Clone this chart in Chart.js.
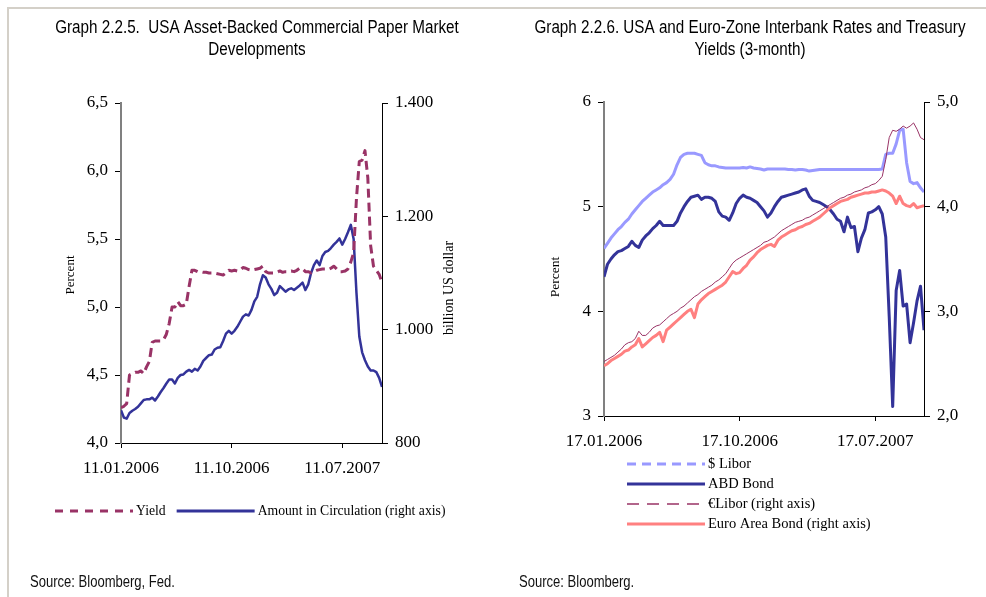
<!DOCTYPE html>
<html>
<head>
<meta charset="utf-8">
<script src="https://cdn.jsdelivr.net/npm/chart.js@4.4.1/dist/chart.umd.min.js"></script>
<style>
  html, body { margin: 0; padding: 0; background: #fff; }
  body { width: 986px; height: 597px; position: relative; overflow: hidden; }
  .frame { position: absolute; left: 7px; top: 7px; right: 0; bottom: 0;
           border-top: 2px solid #d4d0c8; border-left: 2px solid #d4d0c8; }
  #abcpChart { position: absolute; left: 20px; top: 0; }
  #ratesChart { position: absolute; left: 514px; top: 0; }
</style>
</head>
<body>
<div class="frame"></div>
<canvas id="abcpChart" width="474" height="597"></canvas>
<canvas id="ratesChart" width="472" height="597"></canvas>
<script>
// weekly observations, week 0 = first tick date
const tickWeeks = [0, 39, 78];
const abcpTicks = ['11.01.2006', '11.10.2006', '11.07.2007'];
const ratesTicks = ['17.01.2006', '17.10.2006', '17.07.2007'];

// Graph 2.2.5 - percent
const abcpYield = [
  4.26, 4.27, 4.29, 4.50, 4.51, 4.52, 4.52, 4.53, 4.51, 4.56,
  4.60, 4.74, 4.75, 4.75, 4.75, 4.76, 4.80, 4.88, 5.00, 5.00,
  5.04, 5.01, 5.01, 5.02, 5.15, 5.27, 5.27, 5.26, 5.26, 5.255,
  5.255, 5.25, 5.25, 5.25, 5.245, 5.24, 5.235, 5.25, 5.27, 5.265,
  5.27, 5.265, 5.27, 5.29, 5.285, 5.275, 5.27, 5.275, 5.28, 5.285,
  5.30, 5.26, 5.25, 5.25, 5.25, 5.255, 5.265, 5.255, 5.26, 5.26,
  5.265, 5.26, 5.27, 5.285, 5.28, 5.26, 5.26, 5.25, 5.26, 5.27,
  5.275, 5.28, 5.28, 5.275, 5.285, 5.30, 5.28, 5.26, 5.26, 5.265,
  5.28, 5.33, 5.40, 5.80, 6.07, 6.08, 6.15, 5.95, 5.45, 5.30,
  5.27, 5.24, 5.18
];
// Graph 2.2.5 - billion US dollar
const abcpAmount = [
  858, 845, 843, 853, 857, 860, 864, 870, 876, 877,
  877, 880, 875, 882, 890, 897, 905, 912, 912, 905,
  915, 920, 921, 926, 929, 926, 931, 928, 935, 945,
  950, 955, 956, 965, 968, 969, 980, 993, 998, 993,
  998, 1005, 1014, 1023, 1027, 1025, 1035, 1050, 1058, 1080,
  1096, 1092, 1080, 1072, 1061, 1065, 1077, 1072, 1067, 1071,
  1073, 1070, 1074, 1078, 1083, 1070, 1080, 1100, 1114, 1122,
  1114, 1130, 1137, 1139, 1144, 1150, 1155, 1161, 1150, 1160,
  1172, 1185, 1160, 1065, 988, 960, 946, 935, 928, 928,
  925, 915, 899
];

// Graph 2.2.6 - left axis (percent)
const usdLibor = [
  4.60, 4.65, 4.70, 4.74, 4.78, 4.81, 4.85, 4.88, 4.93, 4.97,
  5.01, 5.05, 5.08, 5.11, 5.14, 5.16, 5.18, 5.21, 5.23, 5.26,
  5.31, 5.40, 5.47, 5.50, 5.51, 5.51, 5.51, 5.50, 5.49, 5.42,
  5.40, 5.39, 5.39, 5.38, 5.375, 5.37, 5.37, 5.37, 5.37, 5.37,
  5.375, 5.37, 5.38, 5.37, 5.365, 5.36, 5.35, 5.36, 5.36, 5.36,
  5.36, 5.36, 5.36, 5.355, 5.355, 5.35, 5.355, 5.355, 5.35, 5.34,
  5.345, 5.35, 5.355, 5.355, 5.355, 5.355, 5.355, 5.355, 5.355, 5.355,
  5.355, 5.355, 5.355, 5.355, 5.355, 5.355, 5.355, 5.355, 5.355, 5.355,
  5.36, 5.50, 5.51, 5.51, 5.60, 5.73, 5.74, 5.42, 5.24, 5.22,
  5.23, 5.18, 5.14
];
const abdBond = [
  4.33, 4.45, 4.50, 4.54, 4.57, 4.58, 4.60, 4.62, 4.67, 4.63,
  4.61, 4.68, 4.72, 4.75, 4.79, 4.82, 4.86, 4.82, 4.82, 4.82,
  4.82, 4.86, 4.94, 5.00, 5.05, 5.09, 5.10, 5.11, 5.07, 5.09,
  5.09, 5.08, 5.05, 4.95, 4.91, 4.90, 4.87, 4.94, 5.03, 5.08,
  5.11, 5.09, 5.08, 5.06, 5.04, 5.00, 4.96, 4.90, 4.94, 5.00,
  5.05, 5.09, 5.10, 5.11, 5.12, 5.13, 5.14, 5.16, 5.17, 5.10,
  5.06, 5.05, 5.04, 5.02, 5.00, 4.97, 4.93, 4.88, 4.86, 4.76,
  4.90, 4.80, 4.81, 4.57, 4.70, 4.78, 4.94, 4.95, 4.97, 5.00,
  4.93, 4.71, 3.95, 3.09, 4.20, 4.39, 4.05, 4.07, 3.70, 3.89,
  4.10, 4.24, 3.82
];
// Graph 2.2.6 - right axis (percent)
const eurLibor = [
  2.52, 2.54, 2.56, 2.58, 2.61, 2.64, 2.68, 2.70, 2.71, 2.74,
  2.81, 2.77, 2.77, 2.80, 2.84, 2.86, 2.87, 2.90, 2.93, 2.96,
  2.98, 3.00, 3.03, 3.05, 3.08, 3.11, 3.14, 3.16, 3.19, 3.21,
  3.23, 3.25, 3.28, 3.30, 3.33, 3.36, 3.41, 3.46, 3.49, 3.51,
  3.53, 3.55, 3.57, 3.59, 3.61, 3.63, 3.66, 3.67, 3.69, 3.71,
  3.74, 3.77, 3.79, 3.81, 3.83, 3.85, 3.86, 3.87, 3.89, 3.90,
  3.92, 3.94, 3.96, 3.98, 4.00, 4.02, 4.04, 4.06, 4.08, 4.09,
  4.11, 4.12, 4.14, 4.15, 4.16, 4.18, 4.19, 4.21, 4.22, 4.25,
  4.29, 4.45, 4.66, 4.73, 4.72, 4.74, 4.77, 4.75, 4.77, 4.80,
  4.74, 4.66, 4.64
];
const euroBond = [
  2.48, 2.50, 2.53, 2.55, 2.57, 2.59, 2.62, 2.63, 2.66, 2.68,
  2.74, 2.66, 2.69, 2.72, 2.75, 2.77, 2.80, 2.71, 2.82, 2.85,
  2.88, 2.91, 2.94, 2.97, 3.00, 3.02, 2.94, 3.07, 3.11, 3.14,
  3.17, 3.19, 3.21, 3.23, 3.25, 3.28, 3.33, 3.38, 3.36, 3.37,
  3.41, 3.44, 3.49, 3.52, 3.56, 3.59, 3.61, 3.63, 3.64, 3.62,
  3.68, 3.71, 3.73, 3.75, 3.77, 3.78, 3.80, 3.81, 3.83, 3.84,
  3.86, 3.88, 3.90, 3.93, 3.96, 3.99, 4.01, 4.03, 4.05, 4.06,
  4.07, 4.09, 4.10, 4.11, 4.12, 4.13, 4.13, 4.14, 4.14, 4.15,
  4.16, 4.15, 4.13, 4.10, 4.03, 4.10, 4.03, 4.01, 4.00, 4.03,
  3.99, 4.00, 4.01
];

const SERIF = '"Liberation Serif", "Times New Roman", serif';
const SANS = '"Liberation Sans", Arial, sans-serif';

const toPoints = arr => arr.map((v, i) => ({ x: i, y: v }));
const decimalComma = v => v.toFixed(1).replace('.', ',');
const thousandsDot = v => v >= 1000 ? Math.floor(v / 1000) + '.' + String(v % 1000).padStart(3, '0') : String(v);

// narrow sans text (Arial Narrow look) made by squeezing Liberation Sans
function narrowText(ctx, text, x, y, size, squeeze, align) {
  ctx.save();
  ctx.font = size + 'px ' + SANS;
  ctx.textAlign = align;
  ctx.textBaseline = 'middle';
  ctx.translate(x, y);
  ctx.scale(squeeze, 1);
  ctx.fillText(text, 0, 0);
  ctx.restore();
}

// heading, rotated axis titles, line legend and source note, as in the Excel original
const paperNotes = {
  id: 'paperNotes',
  afterDraw(chart, args, opts) {
    const ctx = chart.ctx;
    ctx.save();
    ctx.fillStyle = '#000';
    if (opts.heading) {
      const h = opts.heading;
      h.lines.forEach((line, i) => narrowText(ctx, line, chart.width / 2, h.y + i * h.step, h.size, h.squeeze, 'center'));
    }
    (opts.axisTitles || []).forEach(t => {
      ctx.save();
      ctx.translate(t.x, t.y);
      ctx.rotate(-Math.PI / 2);
      ctx.font = t.size + 'px ' + SERIF;
      ctx.textAlign = 'center';
      ctx.textBaseline = 'middle';
      ctx.fillText(t.text, 0, 0);
      ctx.restore();
    });
    const lg = opts.legend;
    if (lg) {
      let x = lg.x, y = lg.y;
      chart.data.datasets.forEach(ds => {
        ctx.save();
        ctx.strokeStyle = ds.borderColor;
        ctx.lineWidth = ds.legendWidth || ds.borderWidth;
        ctx.setLineDash(ds.legendDash || []);
        ctx.beginPath();
        ctx.moveTo(x, y);
        ctx.lineTo(x + lg.sample, y);
        ctx.stroke();
        ctx.restore();
        ctx.font = lg.size + 'px ' + SERIF;
        ctx.textAlign = 'left';
        ctx.textBaseline = 'middle';
        ctx.fillText(ds.label, x + lg.sample + lg.gap, y);
        if (lg.vertical) y += lg.step;
        else x += lg.sample + lg.gap + ctx.measureText(ds.label).width + lg.step;
      });
    }
    if (opts.source) {
      ctx.fillStyle = '#111';
      narrowText(ctx, opts.source.text, opts.source.x, opts.source.y, 16, 0.815, 'left');
    }
    ctx.restore();
  }
};

function xAxis(labels, height) {
  return {
    type: 'linear', min: 0, max: 92,
    afterBuildTicks: s => { s.ticks = tickWeeks.map(v => ({ value: v })); },
    afterFit: s => { s.height = height; },
    grid: { drawOnChartArea: false, tickLength: 5, color: '#000' },
    border: { color: '#000', width: 1 },
    ticks: { autoSkip: false, maxRotation: 0, padding: 10, color: '#000',
             font: { family: SERIF, size: 17 }, callback: (v, i) => labels[i] }
  };
}

function yAxis(pos, min, max, step, fmt, width, axisColor, axisWidth) {
  return {
    position: pos, min: min, max: max,
    afterFit: s => { s.width = width; },
    grid: { drawOnChartArea: false, tickLength: 6, color: '#000' },
    border: { color: axisColor, width: axisWidth },
    ticks: { stepSize: step, padding: 7, color: '#000',
             font: { family: SERIF, size: 17 }, callback: fmt }
  };
}

const common = {
  responsive: false,
  animation: false,
  events: [],
  elements: { point: { radius: 0 }, line: { tension: 0, borderJoinStyle: 'round' } }
};

new Chart(document.getElementById('abcpChart'), {
  type: 'line',
  data: {
    datasets: [
      { label: 'Yield', data: toPoints(abcpYield), yAxisID: 'y',
        borderColor: '#993366', borderWidth: 3, borderDash: [9, 5], legendDash: [8, 7] },
      { label: 'Amount in Circulation (right axis)', data: toPoints(abcpAmount), yAxisID: 'y2',
        borderColor: '#333399', borderWidth: 2.5, legendWidth: 3 }
    ]
  },
  options: Object.assign({}, common, {
    layout: { padding: { top: 103 } },
    plugins: {
      legend: { display: false },
      tooltip: { enabled: false },
      title: { display: false },
      paperNotes: {
        heading: { lines: ['Graph 2.2.5.  USA Asset-Backed Commercial Paper Market', 'Developments'],
                   y: 28.5, step: 21.5, size: 17.5, squeeze: 0.87 },
        axisTitles: [
          { text: 'Percent', x: 51, y: 275, size: 13 },
          { text: 'billion US dollar', x: 429, y: 288, size: 14 }
        ],
        legend: { x: 35, y: 511, sample: 78, gap: 3, step: 11, size: 13.7 },
        source: { text: 'Source: Bloomberg, Fed.', x: 10, y: 583 }
      }
    },
    scales: {
      x: xAxis(abcpTicks, 154),
      y: yAxis('left', 4, 6.5, 0.5, decimalComma, 101, '#808080', 2),
      y2: yAxis('right', 800, 1400, 200, thousandsDot, 112, '#000', 1)
    }
  }),
  plugins: [paperNotes]
});

new Chart(document.getElementById('ratesChart'), {
  type: 'line',
  data: {
    datasets: [
      { label: '$ Libor', data: toPoints(usdLibor), yAxisID: 'y', order: 4,
        borderColor: '#9999ff', borderWidth: 3, legendDash: [9, 6] },
      { label: 'ABD Bond', data: toPoints(abdBond), yAxisID: 'y', order: 3,
        borderColor: '#333399', borderWidth: 3 },
      { label: '€Libor (right axis)', data: toPoints(eurLibor), yAxisID: 'y2', order: 2,
        borderColor: '#993366', borderWidth: 1, legendDash: [12, 8], legendWidth: 1.5 },
      { label: 'Euro Area Bond (right axis)', data: toPoints(euroBond), yAxisID: 'y2', order: 1,
        borderColor: '#ff8080', borderWidth: 3 }
    ]
  },
  options: Object.assign({}, common, {
    layout: { padding: { top: 102 } },
    plugins: {
      legend: { display: false },
      tooltip: { enabled: false },
      title: { display: false },
      paperNotes: {
        heading: { lines: ['Graph 2.2.6. USA and Euro-Zone Interbank Rates and Treasury', 'Yields (3-month)'],
                   y: 28.5, step: 21.5, size: 17.5, squeeze: 0.87 },
        axisTitles: [{ text: 'Percent', x: 41, y: 277, size: 13.5 }],
        legend: { x: 113, y: 464, sample: 78, gap: 3, step: 20, size: 14.5, vertical: true },
        source: { text: 'Source: Bloomberg.', x: 5, y: 583 }
      }
    },
    scales: {
      x: xAxis(ratesTicks, 181),
      y: yAxis('left', 3, 6, 1, v => String(v), 90, '#808080', 2),
      y2: yAxis('right', 2, 5, 1, decimalComma, 62, '#000', 1)
    }
  }),
  plugins: [paperNotes]
});
</script>
</body>
</html>
